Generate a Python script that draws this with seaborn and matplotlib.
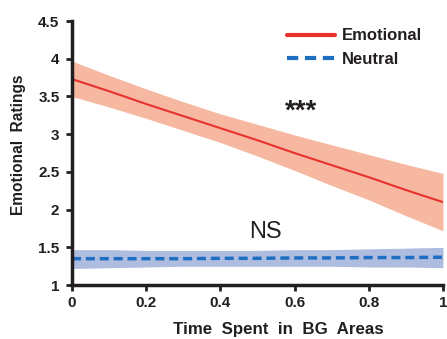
import numpy as np
import pandas as pd
import matplotlib.pyplot as plt
import seaborn as sns

# values
time_bg = [0.0, 0.1, 0.2, 0.3, 0.4, 0.5, 0.6, 0.7, 0.8, 0.9, 1.0]
emo_mean = [3.73, 3.57, 3.40, 3.24, 3.08, 2.92, 2.75, 2.59, 2.43, 2.26, 2.10]
emo_low = [3.50, 3.36, 3.21, 3.05, 2.89, 2.71, 2.52, 2.32, 2.13, 1.92, 1.72]
emo_high = [3.97, 3.78, 3.60, 3.43, 3.27, 3.13, 2.99, 2.86, 2.73, 2.60, 2.48]
neu_mean = [1.35, 1.35, 1.35, 1.35, 1.355, 1.355, 1.36, 1.36, 1.365, 1.365, 1.37]
neu_low = [1.22, 1.23, 1.24, 1.25, 1.25, 1.25, 1.25, 1.25, 1.24, 1.24, 1.23]
neu_high = [1.47, 1.47, 1.46, 1.46, 1.46, 1.46, 1.47, 1.47, 1.48, 1.49, 1.50]

n = len(time_bg)
df = pd.DataFrame({
    "time": time_bg * 2,
    "rating": emo_mean + neu_mean,
    "group": ["Emotional"] * n + ["Neutral"] * n,
})

sns.set_style("ticks")
plt.rcParams["font.family"] = ["Liberation Sans", "DejaVu Sans"]
dark = "#231f20"

fig = plt.figure(figsize=(4.47, 3.39), dpi=100)
ax = fig.add_axes([0.161, 0.159, 0.830, 0.779])

ax.fill_between(time_bg, emo_low, emo_high, color="#f7b8a2", lw=0)
ax.fill_between(time_bg, neu_low, neu_high, color="#aebce0", lw=0)

sns.lineplot(data=df, x="time", y="rating", hue="group", style="group",
             palette={"Emotional": "#e8322e", "Neutral": "#1e6fc1"},
             dashes={"Emotional": "", "Neutral": (2.6, 1.4)},
             ax=ax, legend=False)
ax.lines[0].set_linewidth(1.5)
ax.lines[1].set_linewidth(2.5)

ax.plot([], [], color="#e8322e", lw=3, label="Emotional")
ax.plot([], [], color="#1e6fc1", lw=3, ls=(0, (2.7, 1.6)), label="Neutral")
leg = ax.legend(loc="upper left", frameon=False, handlelength=2.9,
                borderaxespad=0, borderpad=0, labelspacing=0.5, handletextpad=0.4,
                prop={"weight": "bold", "size": 12}, bbox_to_anchor=(0.58, 0.972))
for t in leg.get_texts():
    t.set_color(dark)

ax.text(0.617, 3.30, "***", ha="center", va="center", fontsize=20, fontweight="bold", color=dark)
ax.text(0.522, 1.70, "NS", ha="center", va="center", fontsize=17, color=dark)

ax.set_xlim(0, 1)
ax.set_ylim(1, 4.5)
ax.set_xticks([0, 0.2, 0.4, 0.6, 0.8, 1])
ax.set_xticklabels(["0", "0.2", "0.4", "0.6", "0.8", "1"])
ax.set_yticks([1, 1.5, 2, 2.5, 3, 3.5, 4, 4.5])
ax.set_yticklabels(["1", "1.5", "2", "2.5", "3", "3.5", "4", "4.5"])
ax.tick_params(labelsize=11, width=2, length=4, color=dark, labelcolor=dark)
ax.tick_params(axis="y", pad=5)
for lab in ax.get_xticklabels() + ax.get_yticklabels():
    lab.set_fontweight("bold")

ax.set_xlabel("Time  Spent  in  BG  Areas", fontsize=12.2, fontweight="bold", color=dark)
ax.set_ylabel("Emotional  Ratings", fontsize=11.2, fontweight="bold", color=dark)
ax.xaxis.set_label_coords(0.555, -0.14)
ax.yaxis.set_label_coords(-0.124, 0.53)
sns.despine(ax=ax)
for s in ["left", "bottom"]:
    ax.spines[s].set_linewidth(2.5)
    ax.spines[s].set_color(dark)

fig.savefig("out.png", dpi=100)
